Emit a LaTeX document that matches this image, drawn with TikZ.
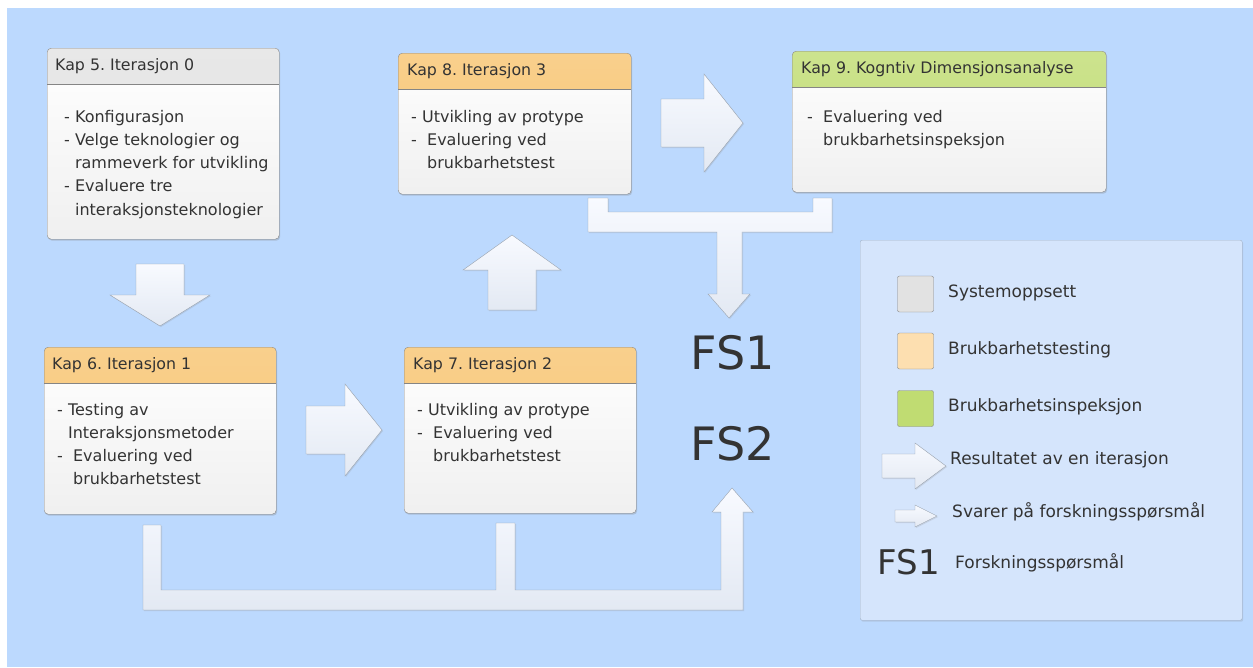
\documentclass[tikz,border=0pt]{standalone}
\usepackage{fontspec}
\setmainfont{DejaVu Sans}
\usepackage{xcolor}
\definecolor{bgblue}{HTML}{BCD9FE}
\definecolor{legblue}{HTML}{D5E5FC}
\definecolor{legline}{HTML}{A3B3C8}
\definecolor{boxline}{HTML}{858585}
\definecolor{txtgray}{HTML}{333333}
\definecolor{hdgray}{HTML}{E2E2E2}
\definecolor{hdorange}{HTML}{F8C470}
\definecolor{hdgreen}{HTML}{C0DC72}
\definecolor{legorange}{HTML}{FDDFB0}
\definecolor{arrline}{HTML}{98A2AE}
\definecolor{arrtop}{HTML}{F8FAFF}
\definecolor{arrbot}{HTML}{E3E9F3}
\usetikzlibrary{shadows}
\frenchspacing

\begin{document}
\begin{tikzpicture}[x=1pt,y=-1pt,every node/.style={text=txtgray}]
    \tikzstyle{headtext}=[anchor=west,inner sep=0,font=\fontsize{15.8}{18}\selectfont]
    \tikzstyle{bodytext}=[anchor=north west,inner sep=0,align=left,font=\fontsize{16}{23.2}\selectfont]
    \tikzstyle{legtext}=[anchor=west,inner sep=0,font=\fontsize{17}{20}\selectfont]
    \tikzstyle{legsq}=[draw=boxline,rounded corners=2pt,minimum size=36pt,inner sep=0]
    \tikzstyle{fsbig}=[inner sep=0,font=\fontsize{46}{46}\selectfont]
    \tikzstyle{arrbody}=[draw=arrline,top color=arrtop,bottom color=arrbot,
        drop shadow={opacity=.2,shadow xshift=1pt,shadow yshift=-1pt}]
    \tikzset{kapbox/.style={draw=boxline,rounded corners=4pt,anchor=north west,inner sep=0,
        top color=white,bottom color=black!6,
        drop shadow={opacity=.3,shadow xshift=1pt,shadow yshift=-1.5pt},
        path picture={
          \shade[sharp corners,top color=#1!80!white,bottom color=#1]
            (path picture bounding box.north west) rectangle ([yshift=-36pt]path picture bounding box.north east);
          \draw[boxline] ([yshift=-36pt]path picture bounding box.north west)
            -- ([yshift=-36pt]path picture bounding box.north east);}},
      pics/blockarr/.style n args={4}{code={
        \draw[arrbody] (0,-#3) -- (#1-#2,-#3) -- (#1-#2,-#4) -- (#1,0)
          -- (#1-#2,#4) -- (#1-#2,#3) -- (0,#3) -- cycle;}}}

    \useasboundingbox (0,0) rectangle (1253,667);
    \fill[white] (0,0) rectangle (1253,667);
    \fill[bgblue] (7,8) rectangle (1253,667);

    % kapitler
    \node[kapbox=hdgray,  minimum width=232pt,minimum height=191pt] (k5) at (47,48)   {};
    \node[kapbox=hdorange,minimum width=233pt,minimum height=141pt] (k8) at (398,53)  {};
    \node[kapbox=hdgreen, minimum width=314pt,minimum height=141pt] (k9) at (792,51)  {};
    \node[kapbox=hdorange,minimum width=232pt,minimum height=167pt] (k6) at (44,347)  {};
    \node[kapbox=hdorange,minimum width=232pt,minimum height=166pt] (k7) at (404,347) {};

    \node[headtext] (k5t) at ([xshift=8pt,yshift=-18pt]k5.north west) {Kap 5. Iterasjon 0};
    \node[headtext] (k8t) at ([xshift=9pt,yshift=-18pt]k8.north west) {Kap 8. Iterasjon 3};
    \node[headtext] (k9t) at ([xshift=9pt,yshift=-18pt]k9.north west) {Kap 9. Kogntiv Dimensjonsanalyse};
    \node[headtext] (k6t) at ([xshift=8pt,yshift=-18pt]k6.north west) {Kap 6. Iterasjon 1};
    \node[headtext] (k7t) at ([xshift=9pt,yshift=-18pt]k7.north west) {Kap 7. Iterasjon 2};

    \node[bodytext] (k5b) at ([xshift=17pt,yshift=-62pt]k5.north west)
        {- Konfigurasjon\\- Velge teknologier og\\\hphantom{- }rammeverk for utvikling\\- Evaluere tre\\\hphantom{- }interaksjonsteknologier};
    \node[bodytext] (k8b) at ([xshift=13pt,yshift=-57pt]k8.north west)
        {- Utvikling av protype\\-\ \ Evaluering ved\\\hphantom{-\ \ }brukbarhetstest};
    \node[bodytext] (k9b) at ([xshift=15pt,yshift=-59pt]k9.north west)
        {-\ \ Evaluering ved\\\hphantom{-\ \ }brukbarhetsinspeksjon};
    \node[bodytext] (k6b) at ([xshift=13pt,yshift=-56pt]k6.north west)
        {- Testing av\\\hphantom{- }Interaksjonsmetoder\\-\ \ Evaluering ved\\\hphantom{-\ \ }brukbarhetstest};
    \node[bodytext] (k7b) at ([xshift=13pt,yshift=-56pt]k7.north west)
        {- Utvikling av protype\\-\ \ Evaluering ved\\\hphantom{-\ \ }brukbarhetstest};

    % resultat-piler
    \pic[rotate=-90] at (160,264) {blockarr={62}{31}{24}{50}};
    \pic             at (306,430) {blockarr={76}{37}{24}{46}};
    \pic[rotate=90]  at (512,310) {blockarr={75}{35}{24}{49}};
    \pic             at (661,123) {blockarr={82}{39}{24}{49}};

    % svar paa forskningsspoersmaal
    \draw[arrbody] (588,198) -- (608,198) -- (608,212) -- (813,212) -- (813,198) -- (832,198)
        -- (832,232) -- (742,232) -- (742,294) -- (750,294) -- (729,318) -- (708,294)
        -- (717,294) -- (717,232) -- (588,232) -- cycle;
    \draw[arrbody] (143,525) -- (161,525) -- (161,590) -- (496,590) -- (496,523) -- (515,523)
        -- (515,590) -- (721,590) -- (721,512) -- (712,512) -- (732,488) -- (753,512)
        -- (743,512) -- (743,610) -- (143,610) -- cycle;

    \node[fsbig] (fs1) at (733,353) {FS1};
    \node[fsbig] (fs2) at (733,444) {FS2};

    % forklaring
    \node[draw=legline,fill=legblue,rounded corners=2pt,anchor=north west,inner sep=0,
          minimum width=382pt,minimum height=380pt,
          drop shadow={opacity=.2,shadow xshift=1pt,shadow yshift=-1.5pt}] (leg) at (860,240) {};
    \node[legsq,fill=hdgray]    (sq1) at (915.5,294)   {};
    \node[legsq,fill=legorange] (sq2) at (915.5,351)   {};
    \node[legsq,fill=hdgreen]   (sq3) at (915.5,408.5) {};
    \pic at (882,466) {blockarr={64}{31}{12}{23}};
    \pic at (895,516) {blockarr={42}{22}{6}{11}};
    \node[inner sep=0,font=\fontsize{34}{34}\selectfont] (lfs) at (909,562) {FS1};

    \node[legtext] (l1) at (948,293) {Systemoppsett};
    \node[legtext] (l2) at (948,350) {Brukbarhetstesting};
    \node[legtext] (l3) at (948,407) {Brukbarhetsinspeksjon};
    \node[legtext] (l4) at (950,460) {Resultatet av en iterasjon};
    \node[legtext] (l5) at (952,512) {Svarer på forskningsspørsmål};
    \node[legtext] (l6) at (955,563) {Forskningsspørsmål};
\end{tikzpicture}
\end{document}
